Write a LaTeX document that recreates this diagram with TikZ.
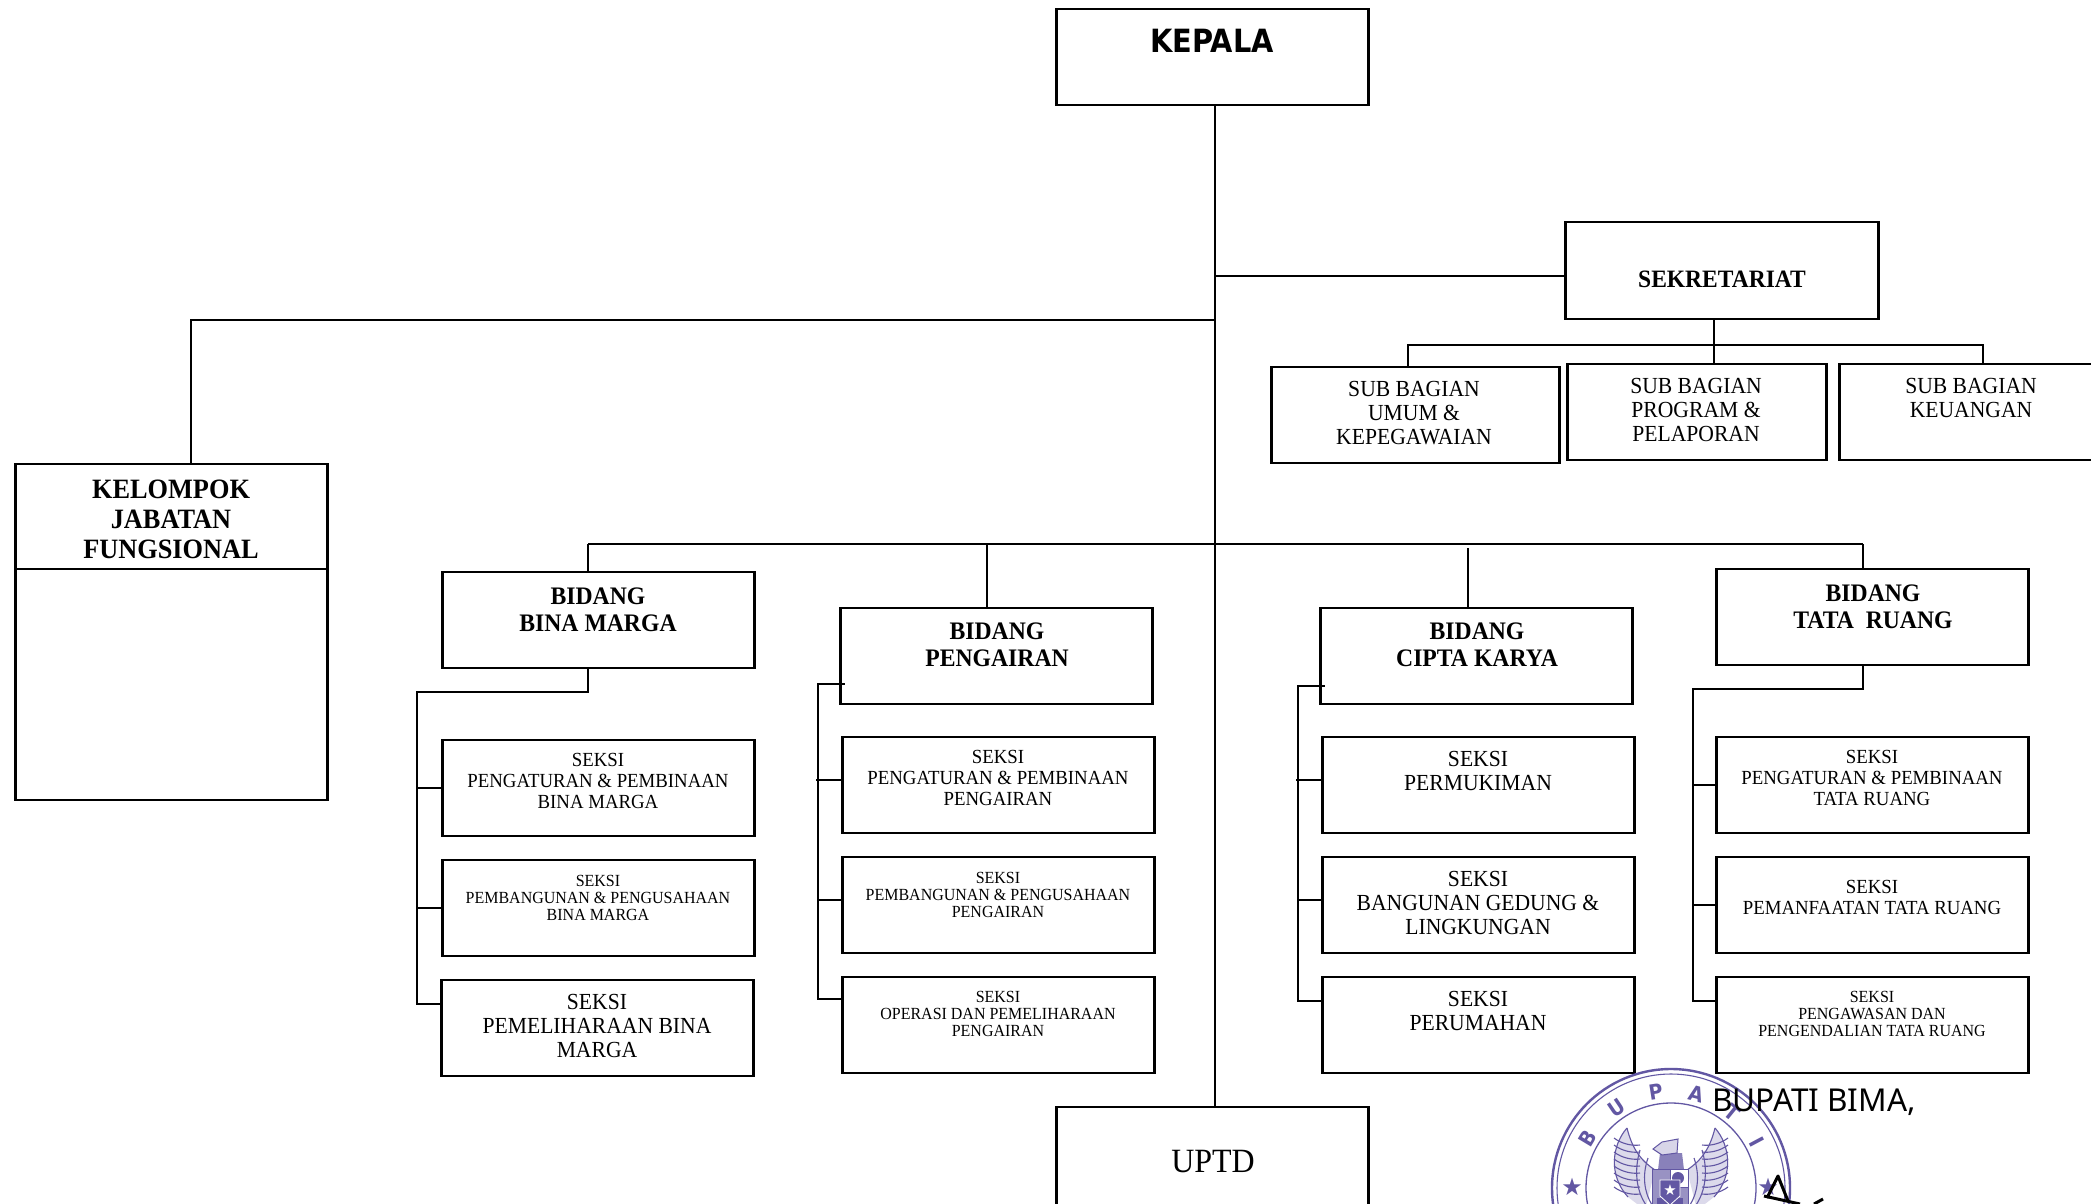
\documentclass[tikz,border=0pt]{standalone}
\usepackage{fontspec}
\setmainfont[FakeStretch=0.94]{Liberation Serif}
\newfontfamily\tah{Noto Sans}
\newfontfamily\tahb[FakeStretch=0.9]{DejaVu Sans Bold}
\newfontfamily\sym{DejaVu Sans}
\usetikzlibrary{calc}
\definecolor{seal}{HTML}{6257A3}
\tikzset{
 x=1pt,y=-1pt,
 conn/.style={draw=black,line width=2.4pt},
 lab/.style={align=center,font=\fontsize{#1}{#1}\selectfont,text=black},
 rb/.style 2 args={draw=black,line width=2.4pt,fill=white,rectangle,inner sep=0pt,outer sep=0pt,minimum width=#1,minimum height=#2,anchor=north west,xshift=0.6pt},
 feather/.style={draw=seal,line width=1.1pt},
}
\begin{document}
\begin{tikzpicture}
\useasboundingbox (0,0) rectangle (2091,1203);
\clip (0,0) rectangle (2091,1203);
\path[fill=white] (0,0) rectangle (2091,1203);
\node[rb={312pt}{96pt}] (kepala) at (1056,9) {};
\node[rb={313pt}{97pt}] (sek) at (1565,222) {};
\node[rb={288pt}{96pt}] (sub1) at (1271,367) {};
\node[rb={259pt}{96pt}] (sub2) at (1567,364) {};
\node[rb={270pt}{96pt}] (sub3) at (1839,364) {};
\node[rb={312pt}{336pt}] (kjf) at (15,464) {};
\node[rb={312pt}{96pt}] (b1) at (442,572) {};
\node[rb={312pt}{96pt}] (b2) at (840,608) {};
\node[rb={312pt}{96pt}] (b3) at (1320,608) {};
\node[rb={312pt}{96pt}] (b4) at (1716,569) {};
\node[rb={312pt}{96pt}] (s11) at (442,740) {};
\node[rb={312pt}{96pt}] (s12) at (442,860) {};
\node[rb={312pt}{96pt}] (s13) at (441,980) {};
\node[rb={312pt}{96pt}] (s21) at (842,737) {};
\node[rb={312pt}{96pt}] (s22) at (842,857) {};
\node[rb={312pt}{96pt}] (s23) at (842,977) {};
\node[rb={312pt}{96pt}] (s31) at (1322,737) {};
\node[rb={312pt}{96pt}] (s32) at (1322,857) {};
\node[rb={312pt}{96pt}] (s33) at (1322,977) {};
\node[rb={312pt}{96pt}] (s41) at (1716,737) {};
\node[rb={312pt}{96pt}] (s42) at (1716,857) {};
\node[rb={312pt}{96pt}] (s43) at (1716,977) {};
\node[rb={312pt}{110pt}] (uptd) at (1056,1107) {};
% guide coordinates
\coordinate (spine) at (1215,0);
\coordinate (tl) at (191,320);
\coordinate (j1) at (spine |- tl);
\coordinate (j2) at (1215,276);
\coordinate (bl) at (588,544);
\coordinate (br) at (1863,544);
\coordinate (dr2) at (987,544);
\coordinate (dr3) at (1468,548);
\coordinate (st) at (1714,345);
\coordinate (sl) at (1408,345);
\coordinate (sr) at (1983,345);
\coordinate (c1) at (417,692);
\coordinate (c1t) at (588,692);
\coordinate (c2) at (818,684);
\coordinate (c3) at (1298,686);
\coordinate (c4) at (1693,689);
\coordinate (c4t) at (1863,689);
\draw[conn] (spine |- kepala.south) -- (spine |- uptd.north);
\draw[conn] (j2) -- (j2 -| sek.west);
\draw[conn] (j1) -- (tl) -- (tl |- kjf.north);
\draw[conn] (bl) -- (br);
\draw[conn] (bl) -- (bl |- b1.north);
\draw[conn] (dr2) -- (dr2 |- b2.north);
\draw[conn] (dr3) -- (dr3 |- b3.north);
\draw[conn] (br) -- (br |- b4.north);
\draw[conn] (st |- sek.south) -- (st |- sub2.north);
\draw[conn] (sl |- sub1.north) -- (sl) -- (sr) -- (sr |- sub3.north);
% col 1
\draw[conn] (c1t |- b1.south) -- (c1t) -- (c1) -- (c1 |- 0,1004) -- (s13.west |- 0,1004);
\draw[conn] (c1 |- s11.west) -- (s11.west);
\draw[conn] (c1 |- s12.west) -- (s12.west);
% col 2
\draw[conn] ($(b2.west |- c2)+(4,0)$) -- (c2) -- (c2 |- 0,999) -- (s23.west |- 0,999);
\draw[conn] ($(c2 |- 0,780)+(-2,0)$) -- (s21.west |- 0,780);
\draw[conn] (c2 |- 0,900) -- (s22.west |- 0,900);
% col 3
\draw[conn] ($(b3.west |- c3)+(4,0)$) -- (c3) -- (c3 |- 0,1001) -- (s33.west |- 0,1001);
\draw[conn] ($(c3 |- 0,780)+(-2,0)$) -- (s31.west |- 0,780);
\draw[conn] (c3 |- 0,900) -- (s32.west |- 0,900);
% col 4
\draw[conn] (c4t |- b4.south) -- (c4t) -- (c4) -- (c4 |- 0,1001) -- (s43.west |- 0,1001);
\draw[conn] (c4 |- 0,785) -- (s41.west |- 0,785);
\draw[conn] (c4 |- 0,905) -- (s42.west |- 0,905);
\draw[conn] (kjf.west |- 0,569) -- (kjf.east |- 0,569);
% labels
\node[font=\tahb\fontsize{32}{32}\selectfont] (t0) at (1212,41) {KEPALA};
\node[lab=25] (t1) at (1722,279) {\bfseries SEKRETARIAT};
\node[lab=23] (t2) at (1414,413) {SUB BAGIAN\\[1pt]UMUM \&\\[1pt]KEPEGAWAIAN};
\node[lab=23] (t3) at (1696,410) {SUB BAGIAN\\[1pt]PROGRAM \&\\[1pt]PELAPORAN};
\node[lab=23] (t4) at (1971,398) {SUB BAGIAN\\[1pt]KEUANGAN};
\node[lab=28] (t5) at (171,519) {\bfseries KELOMPOK\\[2pt]\bfseries JABATAN\\[2pt]\bfseries FUNGSIONAL};
\node[lab=25.2] (t6) at (598,610) {\bfseries BIDANG\\[2pt]\bfseries BINA MARGA};
\node[lab=25.2] (t7) at (997,645) {\bfseries BIDANG\\[2pt]\bfseries PENGAIRAN};
\node[lab=25.2] (t8) at (1477,645) {\bfseries BIDANG\\[2pt]\bfseries CIPTA KARYA};
\node[lab=25.2] (t9) at (1873,607) {\bfseries BIDANG\\[2pt]\bfseries TATA\ \ RUANG};
\node[lab=20] (u1) at (598,781) {SEKSI\\[1pt]PENGATURAN \& PEMBINAAN\\[1pt]BINA MARGA};
\node[lab=17] (u2) at (598,898) {SEKSI\\PEMBANGUNAN \& PENGUSAHAAN\\BINA MARGA};
\node[lab=23] (u3) at (597,1026) {SEKSI\\[1pt]PEMELIHARAAN BINA\\[1pt]MARGA};
\node[lab=20] (v1) at (998,778) {SEKSI\\[1pt]PENGATURAN \& PEMBINAAN\\[1pt]PENGAIRAN};
\node[lab=17] (v2) at (998,895) {SEKSI\\PEMBANGUNAN \& PENGUSAHAAN\\PENGAIRAN};
\node[lab=17] (v3) at (998,1014) {SEKSI\\OPERASI DAN PEMELIHARAAN\\PENGAIRAN};
\node[lab=23] (w1) at (1478,771) {SEKSI\\[1pt]PERMUKIMAN};
\node[lab=23] (w2) at (1478,903) {SEKSI\\[1pt]BANGUNAN GEDUNG \&\\[1pt]LINGKUNGAN};
\node[lab=23] (w3) at (1478,1011) {SEKSI\\[1pt]PERUMAHAN};
\node[lab=20] (x1) at (1872,778) {SEKSI\\[1pt]PENGATURAN \& PEMBINAAN\\[1pt]TATA RUANG};
\node[lab=20] (x2) at (1872,897) {SEKSI\\[1pt]PEMANFAATAN TATA RUANG};
\node[lab=17] (x3) at (1872,1014) {SEKSI\\PENGAWASAN DAN\\PENGENDALIAN TATA RUANG};
\node[lab=34] (t10) at (1213,1162) {UPTD};
% seal
\coordinate (sc) at (1671,1188);
\draw[seal,line width=2.4pt] (sc) circle (119);
\draw[seal,line width=1.1pt] (sc) circle (114);
\draw[seal,line width=1.3pt] (sc) circle (85);
\foreach \a/\c in {149/B,124/U,99/P,75/A,51/T,28/I}{
 \node[text=seal,font=\tahb\fontsize{21}{21}\selectfont,rotate=\a-90] at ($(sc)+(\a:97 and -97)$) {\c};
}
\node[text=seal,font=\sym\fontsize{24}{24}\selectfont,inner sep=0pt] at (1572,1187) {★};
\node[text=seal,font=\sym\fontsize{24}{24}\selectfont,inner sep=0pt] at (1768,1187) {★};
% garuda wings
\foreach \sx/\off in {1/0,-1/3342}{
\begin{scope}[xshift=\off,xscale=\sx]
 \path[fill=seal!22] (1627,1128) .. controls (1612,1145) and (1608,1175) .. (1628,1197) -- (1645,1210) -- (1655,1170) .. controls (1640,1160) and (1632,1148) .. (1627,1128);
 \draw[feather] (1627,1128) .. controls (1612,1145) and (1608,1175) .. (1628,1197);
 \draw[feather] (1627,1128) .. controls (1632,1148) and (1640,1160) .. (1655,1170);
 \foreach \y in {1138,1145,1152,1159,1166,1173,1180,1187}{
  \draw[feather] (1614,\y) .. controls (1622,\y+6) and (1632,\y+8) .. (1640,\y+7);
 }
 \draw[feather] (1640,1150) .. controls (1634,1170) and (1636,1190) .. (1646,1205);
 \draw[feather] (1648,1158) .. controls (1642,1175) and (1644,1192) .. (1652,1205);
\end{scope}}
\path[fill=seal!75] (1660,1153) -- (1682,1153) -- (1684,1170) -- (1658,1170) -- cycle;
\path[fill=seal!25,draw=seal,line width=1pt] (1653,1149) -- (1662,1142) -- (1678,1139) -- (1677,1153) -- (1662,1155) -- cycle;
\path[fill=seal!65,draw=seal,line width=1pt] (1652,1169) rectangle (1688,1205);
\path[fill=white,draw=seal,line width=1pt] (1670,1169) rectangle (1688,1187);
\path[fill=seal] (1678,1178) circle (6);
\path[fill=seal] (1657,1198) -- (1683,1198) -- (1683,1205) -- (1657,1205) -- cycle;
\path[fill=seal,draw=white,line width=0.8pt] (1660,1180) -- (1680,1180) -- (1680,1196) -- (1670,1205) -- (1660,1196) -- cycle;
\node[text=white,font=\sym\fontsize{15}{15}\selectfont,inner sep=0pt] at (1670,1190) {★};
% signature
\coordinate (g1) at (1767,1198);
\coordinate (g2) at (1778,1176);
\coordinate (g3) at (1788,1201);
\coordinate (g4) at (1764,1196);
\coordinate (g5) at (1800,1204);
\coordinate (g6) at (1814,1204);
\coordinate (g7) at (1823,1199);
\draw[black,line width=3pt,line join=round] (g1) -- (g2) -- (g3);
\draw[black,line width=3pt] (g4) -- (g5);
\draw[black,line width=3pt] (g6) -- (g7);
\node[font=\tah\fontsize{31.5}{31.5}\selectfont,anchor=base west,inner sep=0pt] (t11) at (1712,1111) {BUPATI BIMA,};
\end{tikzpicture}
\end{document}
